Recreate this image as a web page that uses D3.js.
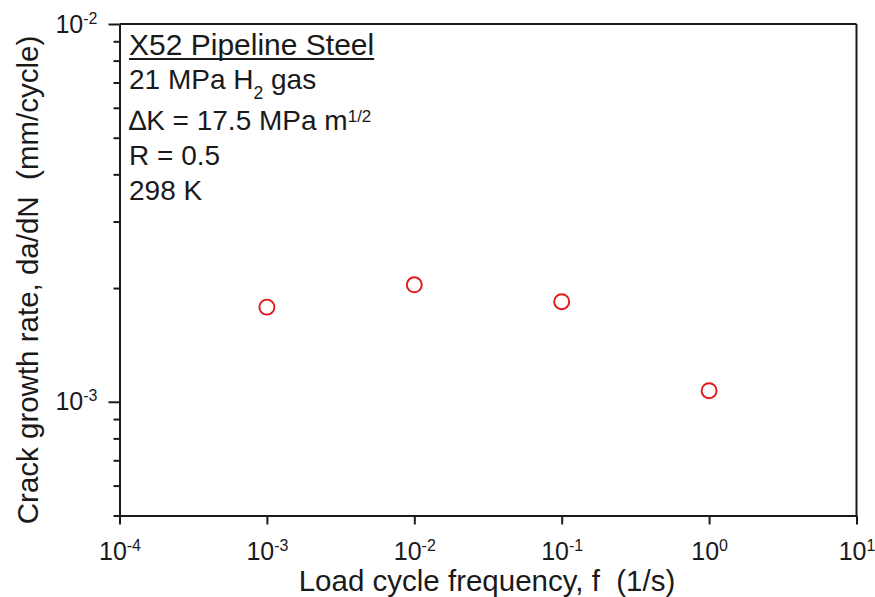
<!DOCTYPE html>
<html>
<head>
<meta charset="utf-8">
<script src="https://cdn.jsdelivr.net/npm/d3@7"></script>
<style>
  body { margin: 0; background: #fff; }
  svg { font-family: "Liberation Sans", Arial, sans-serif; }
</style>
</head>
<body>
<svg id="chart" width="875" height="597"></svg>
<script>
// data
const frequency = [1e-3, 1e-2, 1e-1, 1e0];
const crackRate = [1.78e-3, 2.04e-3, 1.84e-3, 1.07e-3];
const xTickExps = [-4, -3, -2, -1, 0, 1];
const yTickExps = [-3, -2];
const yMinorTicks = [5e-4, 6e-4, 7e-4, 8e-4, 9e-4, 2e-3, 3e-3, 4e-3, 5e-3, 6e-3, 7e-3, 8e-3, 9e-3];

const svg = d3.select("#chart");
const plotL = 119.5, plotR = 856.5, plotT = 24, plotB = 515.5;
const ink = "#1a1a1a";

const x = d3.scaleLog().domain([1e-4, 1e1]).range([plotL, plotR]);
const y = d3.scaleLog().domain([5e-4, 1e-2]).range([plotB, plotT]);

// x axis
const xAxis = d3.axisBottom(x)
  .tickValues(xTickExps.map(e => Math.pow(10, e)))
  .tickFormat("")
  .tickSize(9)
  .tickSizeOuter(0);
const gx = svg.append("g").attr("transform", `translate(0,${plotB})`).call(xAxis);

// y axis, minor then major ticks
const gyMinor = svg.append("g").attr("transform", `translate(${plotL},0)`)
  .call(d3.axisLeft(y).tickValues(yMinorTicks).tickFormat("").tickSize(6).tickSizeOuter(0));
gyMinor.select(".domain").remove();
const gy = svg.append("g").attr("transform", `translate(${plotL},0)`)
  .call(d3.axisLeft(y).tickValues(yTickExps.map(e => Math.pow(10, e))).tickFormat("").tickSize(11).tickSizeOuter(0));

svg.selectAll(".domain, .tick line").attr("stroke", ink).attr("stroke-width", 2);

// top and right frame
svg.append("line").attr("x1", plotL).attr("x2", plotR).attr("y1", plotT).attr("y2", plotT)
  .attr("stroke", ink).attr("stroke-width", 2);
svg.append("line").attr("x1", plotR).attr("x2", plotR).attr("y1", plotT).attr("y2", plotB)
  .attr("stroke", ink).attr("stroke-width", 2);

// power-of-ten labels
function powLabel(g, ex) {
  g.append("tspan").text("10");
  g.append("tspan").attr("font-size", 16).attr("dy", -9).text(ex);
}
gx.selectAll(".tick").each(function(d, i) {
  const t = d3.select(this).append("text")
    .attr("y", 44).attr("fill", ink).attr("font-size", 25)
    .attr("text-anchor", "middle");
  powLabel(t, xTickExps[i]);
});
gy.selectAll(".tick").each(function(d, i) {
  const t = d3.select(this).append("text")
    .attr("x", -22).attr("y", 8).attr("fill", ink).attr("font-size", 25)
    .attr("text-anchor", "end");
  powLabel(t, yTickExps[i]);
});
svg.selectAll("g").attr("font-family", null);

// axis titles
svg.append("text").attr("x", 487).attr("y", 591)
  .attr("text-anchor", "middle").attr("font-size", 29.5).attr("fill", ink)
  .attr("xml:space", "preserve")
  .text("Load cycle frequency, f  (1/s)");
svg.append("text").attr("transform", "translate(38,280) rotate(-90)")
  .attr("text-anchor", "middle").attr("font-size", 29.5).attr("fill", ink)
  .attr("xml:space", "preserve")
  .text("Crack growth rate, da/dN  (mm/cycle)");

// annotation block
const note = svg.append("g").attr("fill", ink).attr("font-size", 28);
const t1 = note.append("text").attr("x", 129).attr("y", 54.5)
  .attr("font-size", 30).text("X52 Pipeline Steel");
const bb = t1.node().getBBox();
note.append("line").attr("x1", bb.x).attr("x2", bb.x + bb.width)
  .attr("y1", 59).attr("y2", 59).attr("stroke", ink).attr("stroke-width", 2);

const t2 = note.append("text").attr("x", 129).attr("y", 88.5);
t2.append("tspan").text("21 MPa H");
t2.append("tspan").attr("font-size", 17.5).attr("dy", 10).text("2");
t2.append("tspan").attr("dy", -10).text(" gas");

const t3 = note.append("text").attr("x", 129).attr("y", 130);
t3.append("tspan").text("\u2206K = 17.5 MPa m");
t3.append("tspan").attr("font-size", 17).attr("dy", -8).text("1/2");

note.append("text").attr("x", 129).attr("y", 165).text("R = 0.5");
note.append("text").attr("x", 129).attr("y", 200).text("298 K");

// data points
svg.append("g").selectAll("circle")
  .data(frequency.map((f, i) => ({ f, r: crackRate[i] })))
  .join("circle")
  .attr("cx", d => x(d.f))
  .attr("cy", d => y(d.r))
  .attr("r", 7.5)
  .attr("fill", "none")
  .attr("stroke", "#e4161b")
  .attr("stroke-width", 1.9);
</script>
</body>
</html>
